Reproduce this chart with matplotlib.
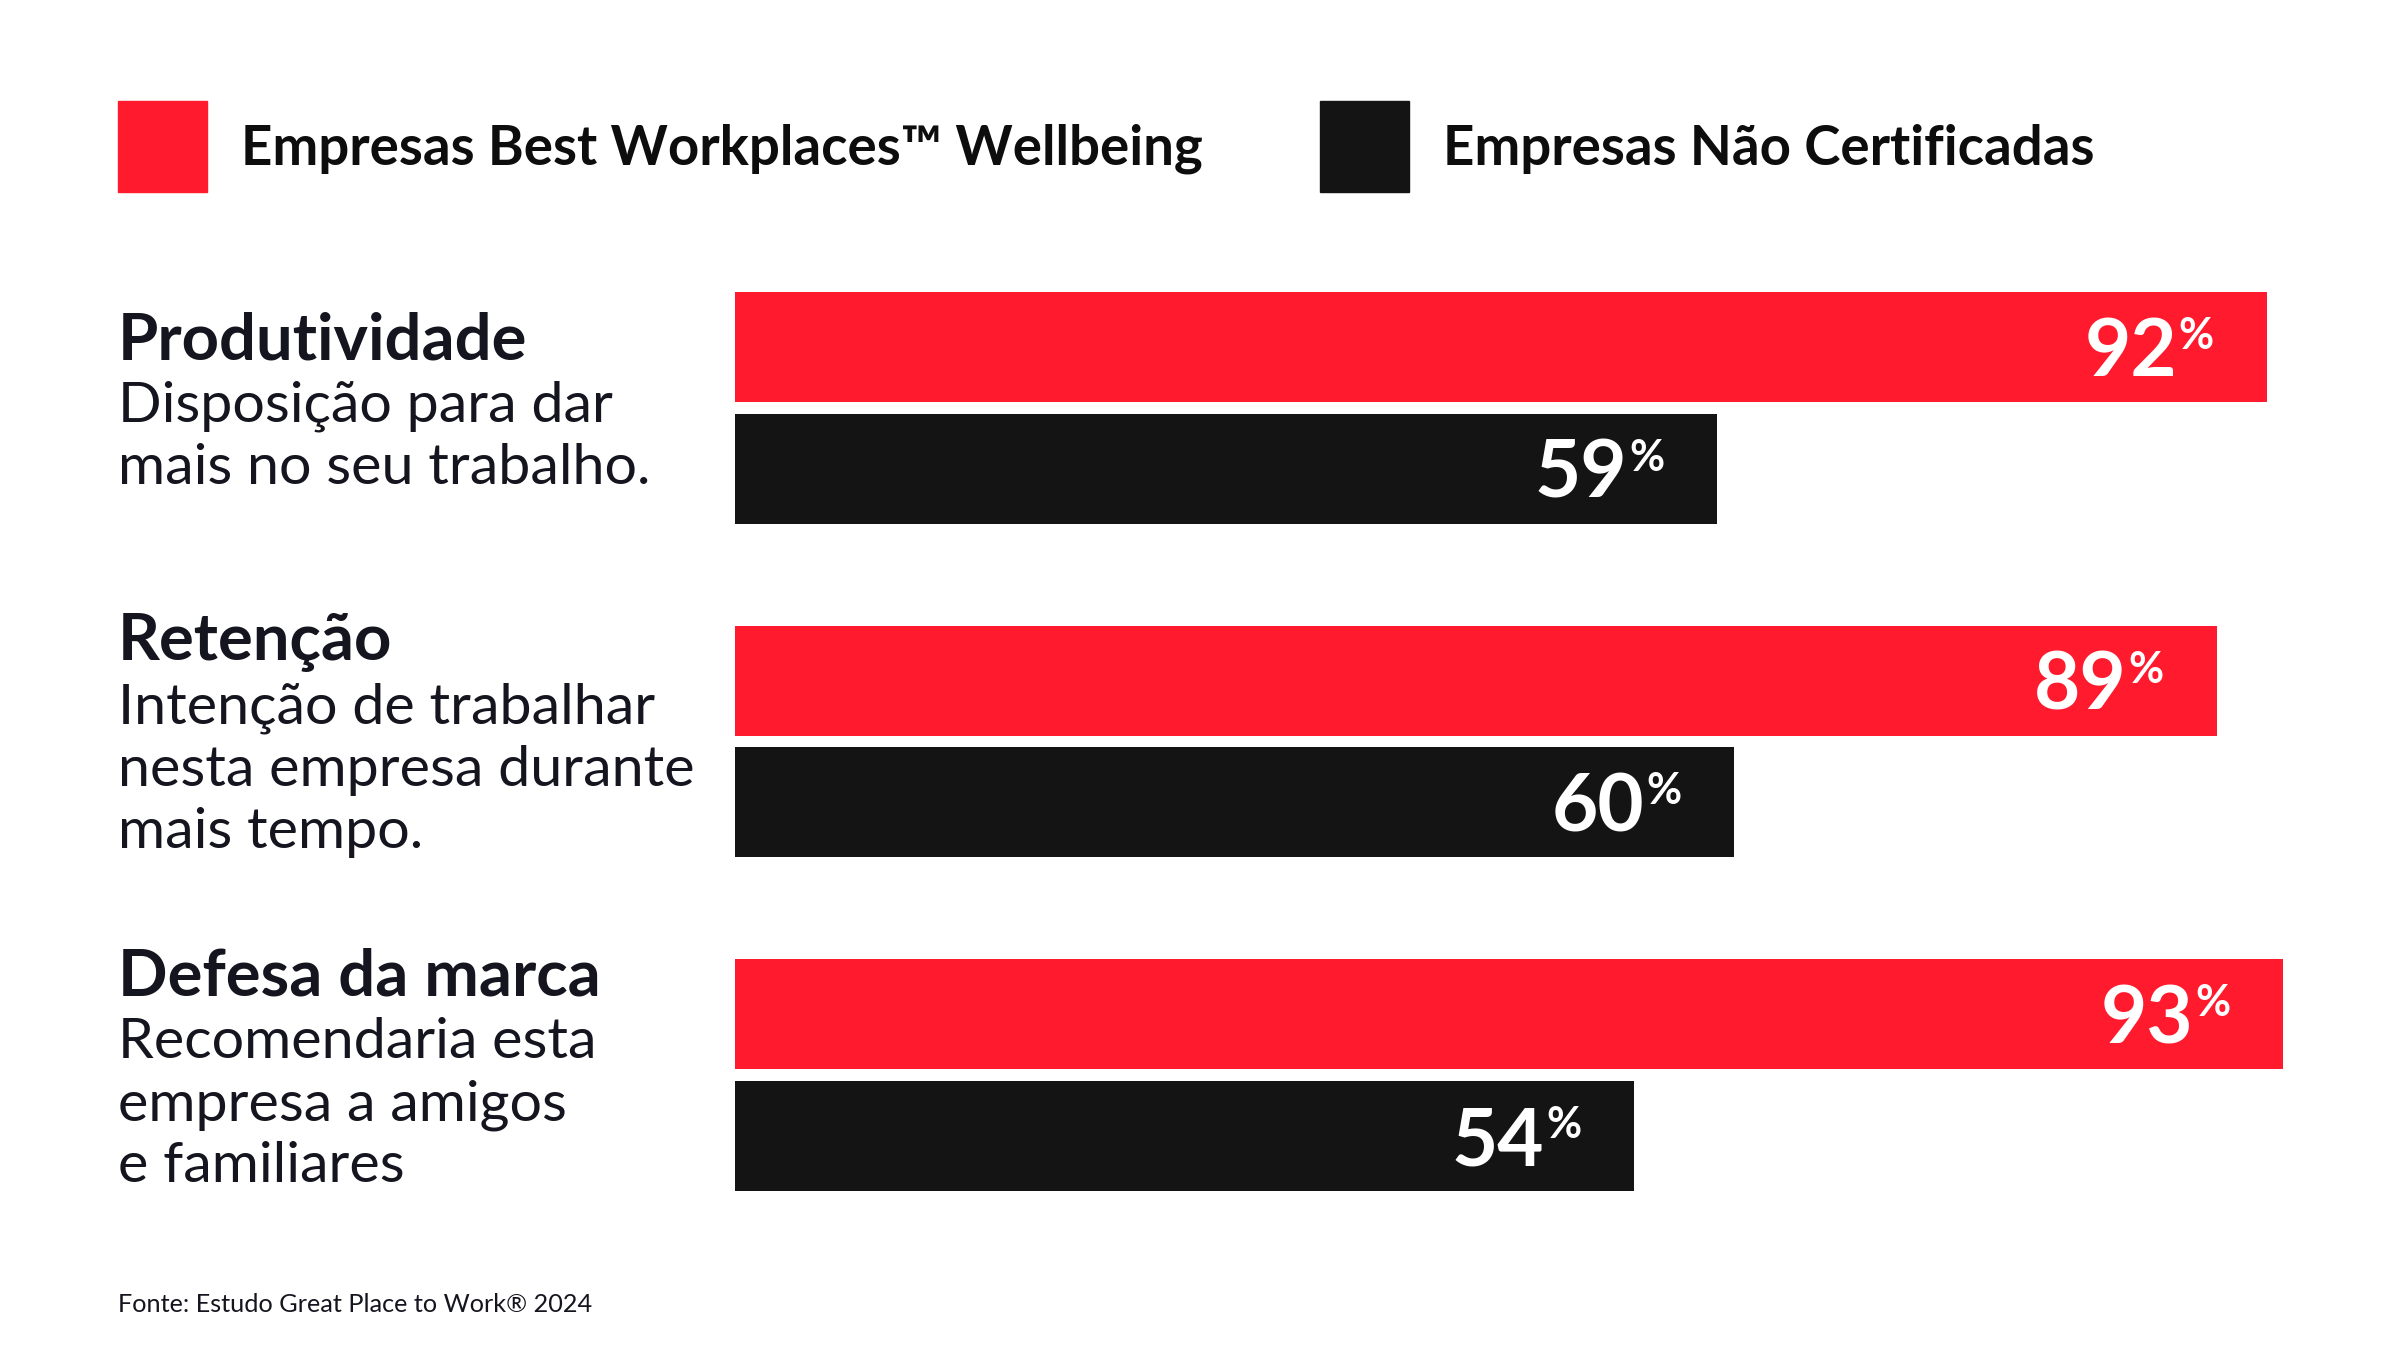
import matplotlib
matplotlib.use("Agg")
import matplotlib.pyplot as plt
from matplotlib.patches import Rectangle
from matplotlib import transforms
import numpy as np

# data
categories = ["Produtividade", "Retenção", "Defesa da marca"]
descriptions = [
    "Disposição para dar\nmais no seu trabalho.",
    "Intenção de trabalhar\nnesta empresa durante\nmais tempo.",
    "Recomendaria esta\nempresa a amigos\ne familiares",
]
series_names = ["Empresas Best Workplaces™ Wellbeing", "Empresas Não Certificadas"]
best_values = [92, 89, 93]
other_values = [59, 60, 54]
source = "Fonte: Estudo Great Place to Work® 2024"

RED = "#FF1A2D"
BLACK = "#141414"
TEXT = "#15151f"
FONT = "Lato"

W, H = 2406, 1370
DPI = 100
fig = plt.figure(figsize=(W / DPI, H / DPI), dpi=DPI)
fig.patch.set_facecolor("white")


def fx(px):
    return px / W


def fy(py):
    return 1 - py / H


# axes: x 0..100 spans pixels 735..2400, y spans first red top to last black bottom
ax = fig.add_axes([fx(735), fy(1191), fx(2400) - fx(735), fy(292) - fy(1191)])
ax.set_xlim(0, 100)
bar_h = 110 / 334
gap = 12 / 334
pos = np.arange(len(categories))
red_y = pos
black_y = pos + bar_h + gap
ax.set_ylim(black_y[-1] + bar_h / 2, red_y[0] - bar_h / 2)
ax.barh(red_y, best_values, height=bar_h, color=RED)
ax.barh(black_y, other_values, height=bar_h, color=BLACK)
ax.axis("off")


def value_label(val, y):
    num_tr = transforms.offset_copy(ax.transData, fig=fig, x=-90, y=-29, units="dots")
    pct_tr = transforms.offset_copy(ax.transData, fig=fig, x=-88, y=-2, units="dots")
    ax.text(val, y, f"{val}", transform=num_tr, ha="right", va="baseline",
            color="white", fontsize=57.5, fontweight="bold", family=FONT)
    ax.text(val, y, "%", transform=pct_tr, ha="left", va="baseline",
            color="white", fontsize=31, fontweight="bold", family=FONT)


for v, y in zip(best_values, red_y):
    value_label(v, y)
for v, y in zip(other_values, black_y):
    value_label(v, y)

# category titles and descriptions
title_y = [341, 643, 977]
desc_y = [406, 708, 1043]
line_step = 62
for cat, desc, ty, dy in zip(categories, descriptions, title_y, desc_y):
    fig.text(fx(118), fy(ty), cat, ha="left", va="center", fontsize=47,
             fontweight="bold", color=TEXT, family=FONT)
    for k, line in enumerate(desc.split("\n")):
        fig.text(fx(118), fy(dy + k * line_step), line, ha="left", va="center",
                 fontsize=41.3, color=TEXT, family=FONT)

# legend
legend_items = [(series_names[0], RED, 118), (series_names[1], BLACK, 1320)]
for name, color, x0 in legend_items:
    fig.patches.append(Rectangle((fx(x0), fy(192)), fx(89), 91 / H,
                                 transform=fig.transFigure, color=color))
    fig.text(fx(x0 + 123), fy(149), name, ha="left", va="center", fontsize=39.3,
             fontweight="bold", color="#0d0d0d", family=FONT)

fig.text(fx(118), fy(1304), source, ha="left", va="center", fontsize=18.2,
         color=TEXT, family=FONT)

fig.savefig("out.png", dpi=DPI, facecolor="white")
